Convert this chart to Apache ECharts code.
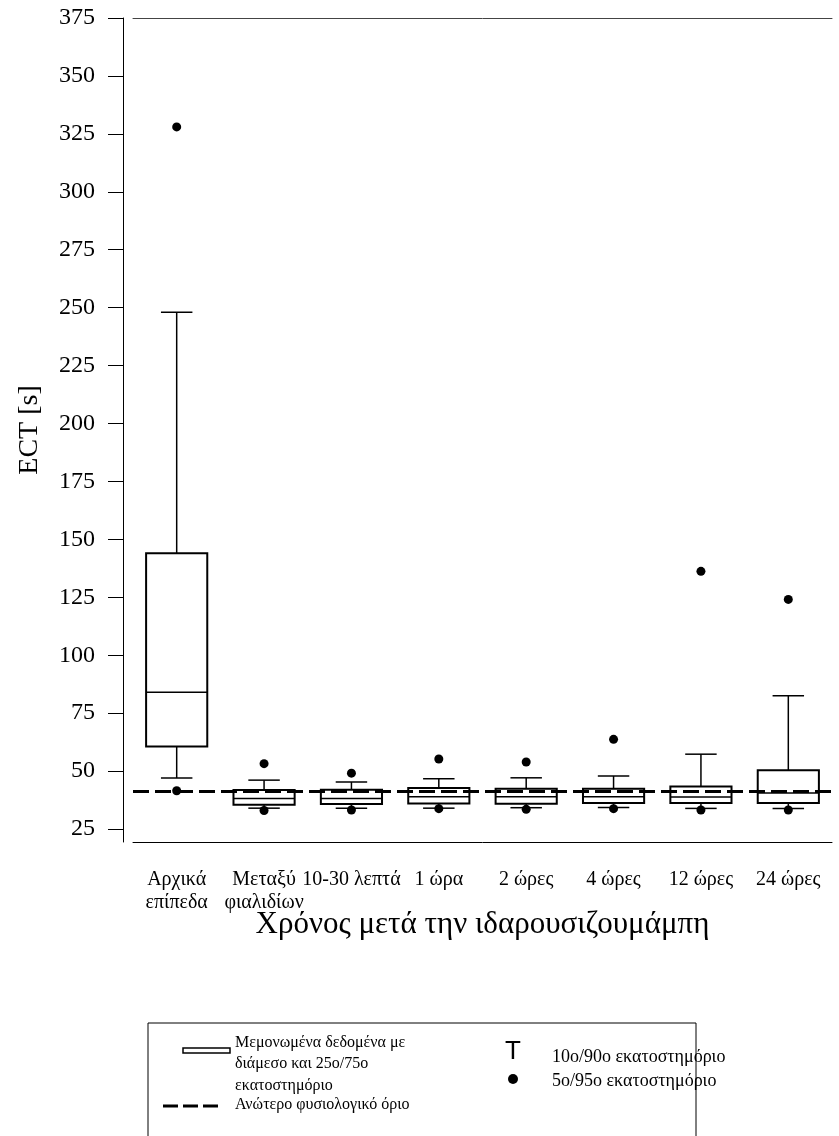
<!DOCTYPE html>
<html>
<head>
<meta charset="utf-8">
<script src="https://cdn.jsdelivr.net/npm/echarts@6/dist/echarts.min.js"></script>
<style>
  html, body { margin: 0; padding: 0; background: #fff; }
  #chart { width: 839px; height: 1136px; }
</style>
</head>
<body>
<div id="chart"></div>
<script>
// categories on the x axis
const categories = ['Αρχικά\nεπίπεδα', 'Μεταξύ\nφιαλιδίων', '10-30 λεπτά', '1 ώρα', '2 ώρες', '4 ώρες', '12 ώρες', '24 ώρες']

// percentiles (ECT in seconds)
const p5 = [41.5, 33.0, 33.2, 33.8, 33.5, 33.8, 33.2, 33.2]
const p10 = [47.0, 34.0, 34.0, 34.0, 34.2, 34.3, 33.9, 33.9]
const p25 = [60.6, 35.5, 35.8, 36.0, 35.9, 36.2, 36.2, 36.2]
const median = [84.0, 38.2, 38.2, 38.9, 38.9, 38.9, 38.8, 40.6]
const p75 = [144.0, 41.8, 42.0, 42.7, 42.4, 42.4, 43.3, 50.4]
const p90 = [248.0, 46.1, 45.3, 46.7, 47.1, 47.9, 57.3, 82.5]
const p95 = [328.0, 53.2, 49.1, 55.2, 53.9, 63.7, 136.2, 124.1]

// upper normal limit
const upperLimit = 41.2

// y axis ticks
const yTicks = [25, 50, 75, 100, 125, 150, 175, 200, 225, 250, 275, 300, 325, 350, 375]
const yMinorTicks = [37.5, 62.5, 87.5, 112.5, 137.5, 162.5, 187.5, 212.5, 237.5, 262.5, 287.5, 312.5, 337.5, 362.5]

const serif = 'Liberation Serif'

const boxData = categories.map((c, i) => [i, p10[i], p25[i], median[i], p75[i], p90[i]])
const dotData = []
categories.forEach((c, i) => {
  dotData.push([i, p5[i]])
  dotData.push([i, p95[i]])
})

const renderBox = (params, api) => {
  const i = api.value(0)
  const band = api.size([1, 0])[0]
  const boxW = band * 0.7
  const capW = band * 0.36
  const x = api.coord([i, 0])[0]
  const y10 = api.coord([i, api.value(1)])[1]
  const y25 = api.coord([i, api.value(2)])[1]
  const y50 = api.coord([i, api.value(3)])[1]
  const y75 = api.coord([i, api.value(4)])[1]
  const y90 = api.coord([i, api.value(5)])[1]
  const thin = { stroke: '#000', lineWidth: 1.5 }
  return {
    type: 'group',
    children: [
      { type: 'line', shape: { x1: x, y1: y75, x2: x, y2: y90 }, style: thin },
      { type: 'line', shape: { x1: x - capW / 2, y1: y90, x2: x + capW / 2, y2: y90 }, style: thin },
      { type: 'line', shape: { x1: x, y1: y25, x2: x, y2: y10 }, style: thin },
      { type: 'line', shape: { x1: x - capW / 2, y1: y10, x2: x + capW / 2, y2: y10 }, style: thin },
      { type: 'rect', shape: { x: x - boxW / 2, y: y75, width: boxW, height: y25 - y75 }, style: { fill: 'none', stroke: '#000', lineWidth: 2 } },
      { type: 'line', shape: { x1: x - boxW / 2, y1: y50, x2: x + boxW / 2, y2: y50 }, style: thin }
    ]
  }
}

const legendFont = '16px "Liberation Serif"'
const legendFontRight = '18px "Liberation Serif"'

const option = {
  animation: false,
  backgroundColor: '#fff',
  grid: { left: 133, right: 7, top: 18, bottom: 294 },
  xAxis: [
    {
      type: 'category',
      data: categories,
      position: 'bottom',
      axisLine: { lineStyle: { color: '#000', width: 1 } },
      axisTick: { alignWithLabel: true, length: 15, lineStyle: { color: '#000' } },
      axisLabel: { color: '#000', fontFamily: serif, fontSize: 20, lineHeight: 23, margin: 26, interval: 0 },
      name: 'Χρόνος μετά την ιδαρουσιζουμάμπη',
      nameLocation: 'middle',
      nameGap: 67,
      nameMoveOverlap: false,
      nameTextStyle: { color: '#000', fontFamily: serif, fontSize: 31 }
    },
    {
      type: 'category',
      data: categories,
      position: 'top',
      axisLine: { lineStyle: { color: '#444', width: 1 } },
      axisTick: { show: false },
      axisLabel: { show: false }
    }
  ],
  yAxis: [
    {
      type: 'value',
      min: 19.4,
      max: 375,
      offset: 10,
      splitLine: { show: false },
      axisLine: { show: true, lineStyle: { color: '#000', width: 1 } },
      axisTick: { show: true, length: 15, customValues: yTicks, lineStyle: { color: '#000' } },
      axisLabel: { color: '#000', fontFamily: serif, fontSize: 24, margin: 28, customValues: yTicks },
      name: 'ECT [s]',
      nameLocation: 'middle',
      nameGap: 79,
      nameMoveOverlap: false,
      nameTextStyle: { color: '#000', fontFamily: serif, fontSize: 28 }
    },
    {
      type: 'value',
      min: 19.4,
      max: 375,
      offset: 10,
      splitLine: { show: false },
      axisLine: { show: false },
      axisTick: { show: true, length: 8, customValues: yMinorTicks, lineStyle: { color: '#000' } },
      axisLabel: { show: false }
    }
  ],
  series: [
    {
      name: 'box',
      type: 'custom',
      renderItem: renderBox,
      encode: { x: 0, y: [1, 2, 3, 4, 5] },
      data: boxData,
      z: 2
    },
    {
      name: 'dots',
      type: 'scatter',
      data: dotData,
      symbol: 'circle',
      symbolSize: 9,
      itemStyle: { color: '#000', opacity: 1 },
      z: 3,
      markLine: {
        silent: true,
        symbol: ['none', 'none'],
        label: { show: false },
        lineStyle: { color: '#000', width: 3, type: [16, 6] },
        data: [{ yAxis: upperLimit }],
        z: 5
      }
    }
  ],
  graphic: [
    { type: 'rect', shape: { x: 148, y: 1023, width: 548, height: 130 }, style: { fill: 'none', stroke: '#000', lineWidth: 1 } },
    { type: 'rect', shape: { x: 183, y: 1048, width: 47, height: 5 }, style: { fill: '#fff', stroke: '#000', lineWidth: 1.5 } },
    { type: 'text', x: 235, y: 1032, style: { text: 'Μεμονωμένα δεδομένα με\nδιάμεσο και 25ο/75ο\nεκατοστημόριο', font: legendFont, lineHeight: 21.5, fill: '#000' } },
    { type: 'line', shape: { x1: 163, y1: 1106, x2: 219, y2: 1106 }, style: { stroke: '#000', lineWidth: 3, lineDash: [15, 5] } },
    { type: 'text', x: 235, y: 1097, style: { text: 'Ανώτερο φυσιολογικό όριο', font: legendFont, fill: '#000' } },
    { type: 'text', x: 513, y: 1052, style: { text: 'T', font: '26px "Liberation Sans"', fill: '#000', align: 'center', verticalAlign: 'middle' } },
    { type: 'text', x: 552, y: 1057, style: { text: '10ο/90ο εκατοστημόριο', font: legendFontRight, fill: '#000', verticalAlign: 'middle' } },
    { type: 'circle', shape: { cx: 513, cy: 1079, r: 5 }, style: { fill: '#000' } },
    { type: 'text', x: 552, y: 1081, style: { text: '5ο/95ο εκατοστημόριο', font: legendFontRight, fill: '#000', verticalAlign: 'middle' } }
  ]
}

const myChart = echarts.init(document.getElementById('chart'))
myChart.setOption(option)
</script>
</body>
</html>
